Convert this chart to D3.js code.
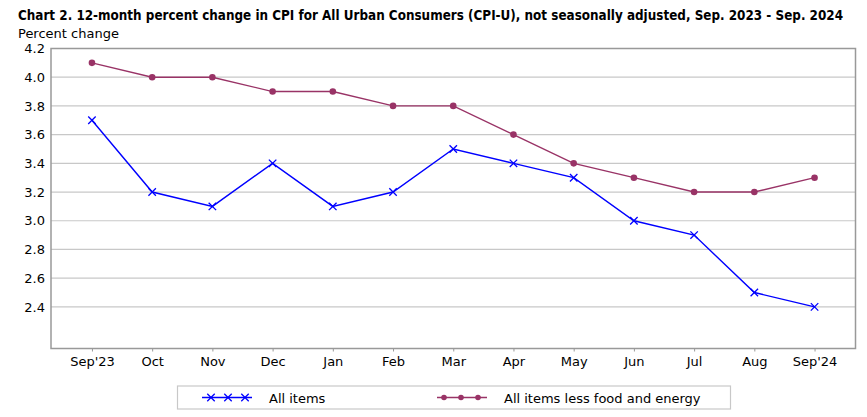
<!DOCTYPE html>
<html>
<head>
<meta charset="utf-8">
<script src="https://cdn.jsdelivr.net/npm/d3@7"></script>
<style>
  body { margin: 0; background: #fff; }
  text { font-family: "DejaVu Sans", Verdana, sans-serif; }
</style>
</head>
<body>
<script>
// months along the bottom
var months = ["Sep'23", "Oct", "Nov", "Dec", "Jan", "Feb", "Mar", "Apr", "May", "Jun", "Jul", "Aug", "Sep'24"];
// 12-month percent change, all items
var allItems = [3.7, 3.2, 3.1, 3.4, 3.1, 3.2, 3.5, 3.4, 3.3, 3.0, 2.9, 2.5, 2.4];
// all items less food and energy
var coreItems = [4.1, 4.0, 4.0, 3.9, 3.9, 3.8, 3.8, 3.6, 3.4, 3.3, 3.2, 3.2, 3.3];
var yTicks = [2.4, 2.6, 2.8, 3.0, 3.2, 3.4, 3.6, 3.8, 4.0, 4.2];

var width = 867, height = 417;
var margin = {top: 48.5, right: 11.5, bottom: 68.5, left: 51};
var w = width - margin.left - margin.right;
var h = height - margin.top - margin.bottom;

var blue = "#0000ff";
var maroon = "#993366";

var svg = d3.select("body").append("svg")
  .attr("width", width)
  .attr("height", height);

// title, squeezed horizontally so it fits the same span as the original
var title = svg.append("text")
  .attr("font-size", "14px")
  .attr("font-weight", "bold")
  .text("Chart 2. 12-month percent change in CPI for All Urban Consumers (CPI-U), not seasonally adjusted, Sep. 2023 - Sep. 2024");
var tw = title.node().getComputedTextLength();
title.attr("transform", "translate(18,20) scale(" + (826 / tw) + ",1)");

svg.append("text")
  .attr("x", 18).attr("y", 38)
  .attr("font-size", "13px")
  .text("Percent change");

var g = svg.append("g")
  .attr("transform", "translate(" + margin.left + "," + margin.top + ")");

var x = d3.scalePoint()
  .domain(months)
  .range([0, w])
  .padding(0.68);

var y = d3.scaleLinear()
  .domain([2.11, 4.2])
  .range([h, 0]);

// gridlines
g.selectAll(".grid")
  .data(yTicks)
  .enter().append("line")
  .attr("x1", 0).attr("x2", w)
  .attr("y1", d => y(d)).attr("y2", d => y(d))
  .style("stroke", "#c8c8c8")
  .style("stroke-width", 1.2);

// y axis labels
var yAxis = d3.axisLeft(y)
  .tickValues(yTicks)
  .tickFormat(d3.format(".1f"))
  .tickSize(0)
  .tickPadding(6);
var yG = g.append("g").call(yAxis);
yG.select(".domain").remove();
yG.selectAll("text")
  .style("font-family", "DejaVu Sans, sans-serif")
  .style("font-size", "13px")
  .attr("fill", "#000");

// x axis
var xAxis = d3.axisBottom(x)
  .tickSize(3)
  .tickPadding(5);
var xG = g.append("g")
  .attr("transform", "translate(0," + h + ")")
  .call(xAxis);
xG.select(".domain").remove();
xG.selectAll("line").style("stroke", "#999");
xG.selectAll("text")
  .style("font-family", "DejaVu Sans, sans-serif")
  .style("font-size", "13px")
  .attr("fill", "#000");

// plot frame
g.append("rect")
  .attr("x", 0).attr("y", 0)
  .attr("width", w).attr("height", h)
  .style("fill", "none")
  .style("stroke", "#999")
  .style("stroke-width", 1.5);

var line = d3.line()
  .x((d, i) => x(months[i]))
  .y(d => y(d));

// core series
g.append("path")
  .datum(coreItems)
  .attr("d", line)
  .style("fill", "none")
  .style("stroke", maroon)
  .style("stroke-width", 1.4);
g.selectAll(".dot")
  .data(coreItems)
  .enter().append("circle")
  .attr("cx", (d, i) => x(months[i]))
  .attr("cy", d => y(d))
  .attr("r", 3.3)
  .style("fill", maroon);

// all items series
g.append("path")
  .datum(allItems)
  .attr("d", line)
  .style("fill", "none")
  .style("stroke", blue)
  .style("stroke-width", 1.4);

var cross = d3.symbol().type(d3.symbolX).size(38);
g.selectAll(".xmark")
  .data(allItems)
  .enter().append("path")
  .attr("d", cross)
  .attr("transform", (d, i) => "translate(" + x(months[i]) + "," + y(d) + ")")
  .style("fill", "none")
  .style("stroke", blue)
  .style("stroke-width", 1.3);

// legend
var legend = svg.append("g");
legend.append("rect")
  .attr("x", 177.5).attr("y", 386)
  .attr("width", 553).attr("height", 23)
  .style("fill", "#fff")
  .style("stroke", "#c8c8c8")
  .style("stroke-width", 1.2);

var legendItems = [
  {name: "All items", color: blue, mark: "x", x0: 202, tx: 269},
  {name: "All items less food and energy", color: maroon, mark: "dot", x0: 437, tx: 504}
];

legendItems.forEach(function(item) {
  var ly = 397.5;
  legend.append("line")
    .attr("x1", item.x0).attr("x2", item.x0 + 50)
    .attr("y1", ly).attr("y2", ly)
    .style("stroke", item.color)
    .style("stroke-width", 1.3);
  [8, 25, 42].forEach(function(off) {
    if (item.mark == "x") {
      legend.append("path")
        .attr("d", cross)
        .attr("transform", "translate(" + (item.x0 + off + 1) + "," + ly + ")")
        .style("fill", "none")
        .style("stroke", item.color)
        .style("stroke-width", 1.3);
    } else {
      legend.append("circle")
        .attr("cx", item.x0 + off - 1).attr("cy", ly)
        .attr("r", 2.8)
        .style("fill", item.color);
    }
  });
  legend.append("text")
    .attr("x", item.tx).attr("y", ly + 5)
    .attr("font-size", "13px")
    .text(item.name);
});
</script>
</body>
</html>
